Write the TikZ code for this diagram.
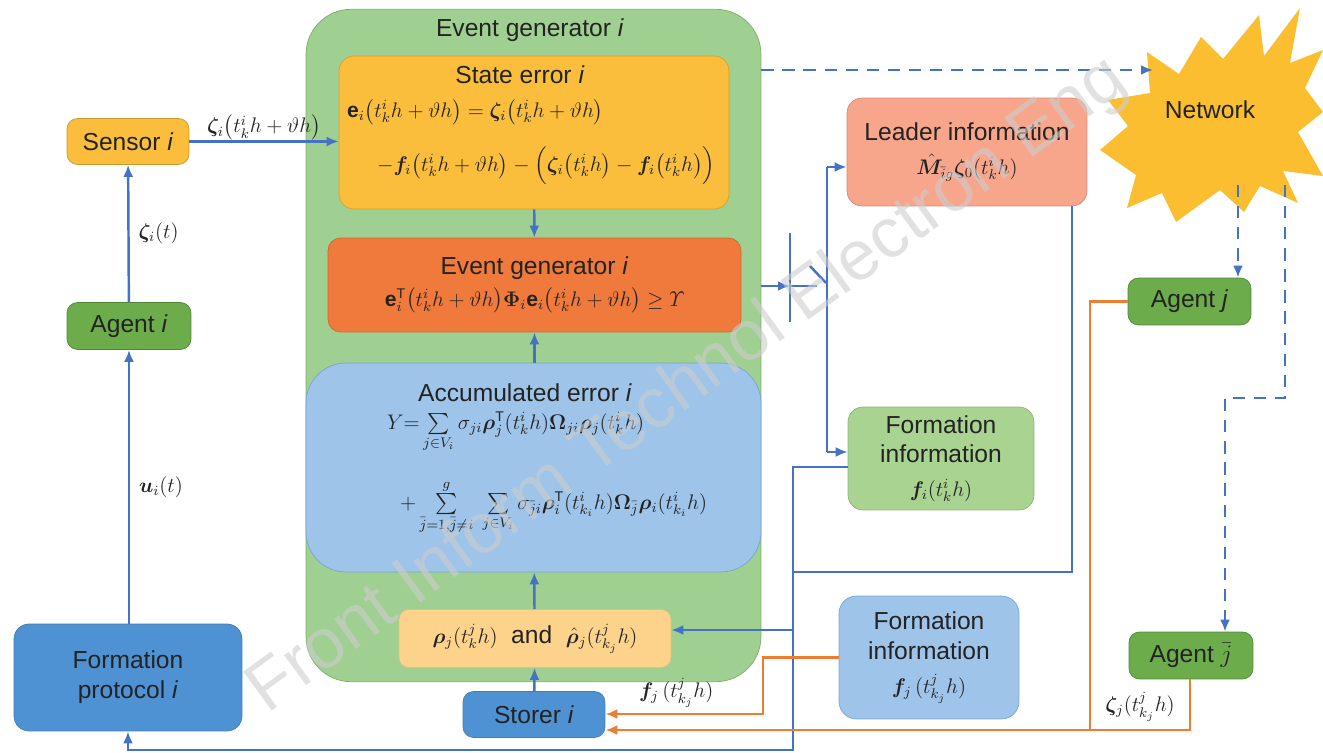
\documentclass[tikz,border=0pt]{standalone}
\usepackage{amsmath,bm}
\usepackage{fontspec}
\setmainfont{Liberation Sans}
\usetikzlibrary{positioning,calc,arrows.meta}

\definecolor{gengreen}{RGB}{160,207,146}
\definecolor{genedge}{RGB}{120,175,100}
\definecolor{stateorange}{RGB}{250,190,60}
\definecolor{evtorange}{RGB}{240,122,60}
\definecolor{accblue}{RGB}{158,196,233}
\definecolor{accedge}{RGB}{120,165,215}
\definecolor{rhoorange}{RGB}{253,211,140}
\definecolor{darkblue}{RGB}{78,146,211}
\definecolor{agentgreen}{RGB}{108,172,74}
\definecolor{agentedge}{RGB}{80,135,55}
\definecolor{leadersalmon}{RGB}{247,166,140}
\definecolor{lightgreen}{RGB}{169,211,145}
\definecolor{netyellow}{RGB}{250,190,48}
\definecolor{lineblue}{RGB}{68,114,196}
\definecolor{lineorange}{RGB}{237,125,49}
\definecolor{txt}{RGB}{35,35,35}
\definecolor{wmark}{RGB}{205,205,205}

\newcommand{\eqsize}{\fontsize{12}{14}\selectfont}

\tikzstyle{blk}=[rectangle, rounded corners=6pt, draw, align=center, text=txt, inner sep=1mm]
\tikzstyle{flow}=[line width=1.4pt, draw=lineblue, -{Latex[length=2.4mm,width=2mm]}]
\tikzstyle{oflow}=[line width=1.4pt, draw=lineorange, -{Latex[length=2.4mm,width=2mm]}]
\tikzstyle{bus}=[line width=1.4pt, draw=lineblue]
\tikzstyle{obus}=[line width=1.4pt, draw=lineorange]
\tikzstyle{netlink}=[line width=1.4pt, draw=lineblue, dash pattern=on 7pt off 5pt, -{Latex[length=2.4mm,width=2mm]}]
\tikzstyle{lbl}=[text=txt, inner sep=1pt]

\begin{document}
\begin{tikzpicture}[x=0.02cm,y=-0.02cm,font=\fontsize{14}{17}\selectfont]
\useasboundingbox (0,0) rectangle (1323,753);

% event generator block
\node[blk, fill=gengreen, draw=genedge, rounded corners=0.9cm, minimum width=9.1cm, minimum height=13.45cm] (gen) at (533.5,345.5) {};
\node[lbl] (gentitle) at (530,30) {Event generator \textit{i}};

\node[blk, fill=stateorange, draw=stateorange!85!black, rounded corners=0.3cm, minimum width=7.8cm, minimum height=3.06cm] (state) at (534,132.5) {};
\node[lbl] (statetitle) at (520,75) {State error \textit{i}};
\node[lbl, anchor=west, font=\eqsize] (stateeq1) at (345,112) {$\mathbf{e}_i\bigl(t_k^ih+\vartheta h\bigr)=\bm{\zeta}_i\bigl(t_k^ih+\vartheta h\bigr)$};
\node[lbl, anchor=west, font=\eqsize] (stateeq2) at (375,166) {$-\bm{f}_i\bigl(t_k^ih+\vartheta h\bigr)-\Bigl(\bm{\zeta}_i\bigl(t_k^ih\bigr)-\bm{f}_i\bigl(t_k^ih\bigr)\Bigr)$};

\node[blk, fill=evtorange, draw=evtorange!85!black, rounded corners=0.25cm, minimum width=8.26cm, minimum height=1.88cm] (evt) at (534.5,285) {Event generator \textit{i}\\[1pt] {\eqsize$\mathbf{e}_i^{\mathrm{T}}\bigl(t_k^ih+\vartheta h\bigr)\bm{\Phi}_i\mathbf{e}_i\bigl(t_k^ih+\vartheta h\bigr)\geq\mathnormal{\Upsilon}$}};

\node[blk, fill=accblue, draw=accedge, rounded corners=0.8cm, minimum width=9.1cm, minimum height=4.18cm] (acc) at (533.5,467.5) {};
\node[lbl] (acctitle) at (525,393) {Accumulated error \textit{i}};
\node[lbl, anchor=west, font=\eqsize] (acceq1) at (385,432) {$Y{=}\sum\limits_{j\in V_i}\sigma_{ji}\bm{\rho}_j^{\mathrm{T}}(t_k^ih)\bm{\Omega}_{ji}\bm{\rho}_j(t_k^ih)$};
\node[lbl, anchor=west, font=\eqsize] (acceq2) at (398,507) {$+\sum\limits_{\bar{j}=1,\bar{j}\neq i}^{g}\;\sum\limits_{j\in V_i}\sigma_{\bar{j}i}\bm{\rho}_i^{\mathrm{T}}(t_{k_i}^ih)\bm{\Omega}_{\bar{j}}\bm{\rho}_i(t_{k_i}^ih)$};

\node[blk, fill=rhoorange, draw=rhoorange!90!black, rounded corners=0.2cm, minimum width=5.44cm, minimum height=1.16cm] (rho) at (535,638.5) {{\eqsize$\bm{\rho}_j(t_k^jh)$} \ and \ {\eqsize$\hat{\bm{\rho}}_j(t_{k_j}^jh)$}};

\node[blk, fill=darkblue, draw=darkblue!85!black, minimum width=2.84cm, minimum height=0.92cm] (storer) at (534,714.5) {Storer \textit{i}};

% agent i side
\node[blk, fill=stateorange, draw=stateorange!80!black, minimum width=2.44cm, minimum height=0.92cm] (sensor) at (128,141.5) {Sensor \textit{i}};
\node[blk, fill=agentgreen, draw=agentedge, minimum width=2.48cm, minimum height=0.94cm] (agenti) at (129,326) {Agent \textit{i}};
\node[blk, fill=darkblue, draw=darkblue!85!black, rounded corners=0.3cm, minimum width=4.56cm, minimum height=2.14cm] (protocol) at (128,677.5) {Formation\\ protocol \textit{i}};

% neighbour side
\node[blk, fill=leadersalmon, draw=leadersalmon!85!black, rounded corners=0.3cm, minimum width=4.8cm, minimum height=2.16cm] (leader) at (967,152) {Leader information\\[2pt] {\eqsize$\hat{\bm{M}}_{\bar{i}g}\bm{\zeta}_0(t_k^ih)$}};
\node[blk, fill=lightgreen, draw=lightgreen!85!black, rounded corners=0.3cm, minimum width=3.72cm, minimum height=2.06cm] (finfo) at (941,458.5) {Formation\\ information\\[2pt] {\eqsize$\bm{f}_i(t_k^ih)$}};
\node[blk, fill=accblue, draw=accedge, rounded corners=0.35cm, minimum width=3.6cm, minimum height=2.46cm] (fjinfo) at (929,657.5) {Formation\\ information\\[2pt] {\eqsize$\bm{f}_j\,(t_{k_j}^jh)$}};
\node[blk, fill=agentgreen, draw=agentedge, minimum width=2.46cm, minimum height=0.94cm] (agentj) at (1189.5,301.5) {Agent \textit{j}};
\node[blk, fill=agentgreen, draw=agentedge, minimum width=2.48cm, minimum height=0.94cm] (agentjb) at (1191,655.5) {Agent $\bar{j}$};

% network burst
\fill[netyellow] (1147,52) -- (1179,74) -- (1201,37) -- (1223,59) -- (1259,15) -- (1264,56) -- (1300,8) -- (1290,63) -- (1323,50) -- (1305,88) -- (1323,112) -- (1298,132) -- (1323,176) -- (1283,171) -- (1298,203) -- (1260,186) -- (1244,212) -- (1220,190) -- (1176,222) -- (1162,193) -- (1127,208) -- (1136,175) -- (1100,150) -- (1128,126) -- (1108,100) -- (1150,93) -- cycle;
\node[lbl] (net) at (1210,110) {Network};

% main chain
\draw[flow] (sensor.east) -- (state.west |- sensor.east) node[lbl, midway, above=-1pt, font=\eqsize] (zlab) {$\bm{\zeta}_i\bigl(t_k^ih+\vartheta h\bigr)$};
\draw[flow] (agenti) -- (sensor) node[lbl, midway, right=4pt, font=\eqsize] (ztlab) {$\bm{\zeta}_i(t)$};
\draw[flow] (protocol.north -| agenti) -- (agenti) node[lbl, midway, right=4pt, font=\eqsize] (ulab) {$\bm{u}_i(t)$};
\draw[flow] (state) -- (evt);
\draw[flow] (acc.north -| evt) -- (evt);
\draw[flow] (rho.north -| evt) -- (acc);
\draw[flow] (storer) -- (rho);

% switch
\coordinate (sw) at (790,286);
\draw[flow] (gen.east |- sw) -- (sw);
\draw[bus] (790,233) -- (790,322);
\draw[bus] (sw) -- (817,286);
\draw[bus] (810,266) -- (826,283);
\draw[bus] (827,167) -- (827,452);
\draw[flow] (827,167) -- (leader.west |- 0,167);
\draw[flow] (827,452) -- (finfo.west |- 0,452);

% feedback buses
\coordinate (fb) at (793,750);
\draw[flow] (finfo.west |- 0,467) -- (793,467) -- (fb) -- (protocol.south |- fb) -- (protocol.south);
\draw[bus] (leader.south -| 1072,0) -- (1072,572) -- (793,572);
\draw[flow] (793,630) -- (rho.east |- 0,630);

% neighbour data
\draw[oflow] (fjinfo.west) -- (763,657.5) -- (763,714) -- (storer.east |- 0,714) node[lbl, pos=0.55, above=2pt, font=\eqsize] (fjlab) {$\bm{f}_j\,(t_{k_j}^jh)$};
\draw[oflow] (agentj.west) -- (1090,301.5) -- (1090,730) -- (storer.east |- 0,730);
\draw[obus] (agentjb.south -| 1190,0) -- (1190,730) -- (1090,730) node[lbl, midway, above=3pt, font=\eqsize] (zjlab) {$\bm{\zeta}_j(t_{k_j}^jh)$};

% network links
\draw[netlink] (gen.east |- 0,70) -- (1153,70);
\draw[netlink] (1238,185) -- (agentj.north -| 1238,0);
\draw[netlink] (1285,185) -- (1285,398) -- (1225,398) -- (agentjb.north -| 1225,0);

% watermark
\node[text=wmark, opacity=0.6, rotate=36, font=\fontsize{40}{48}\selectfont] (wm) at (688,386) {Front Inform Technol Electron Eng};
\end{tikzpicture}
\end{document}
